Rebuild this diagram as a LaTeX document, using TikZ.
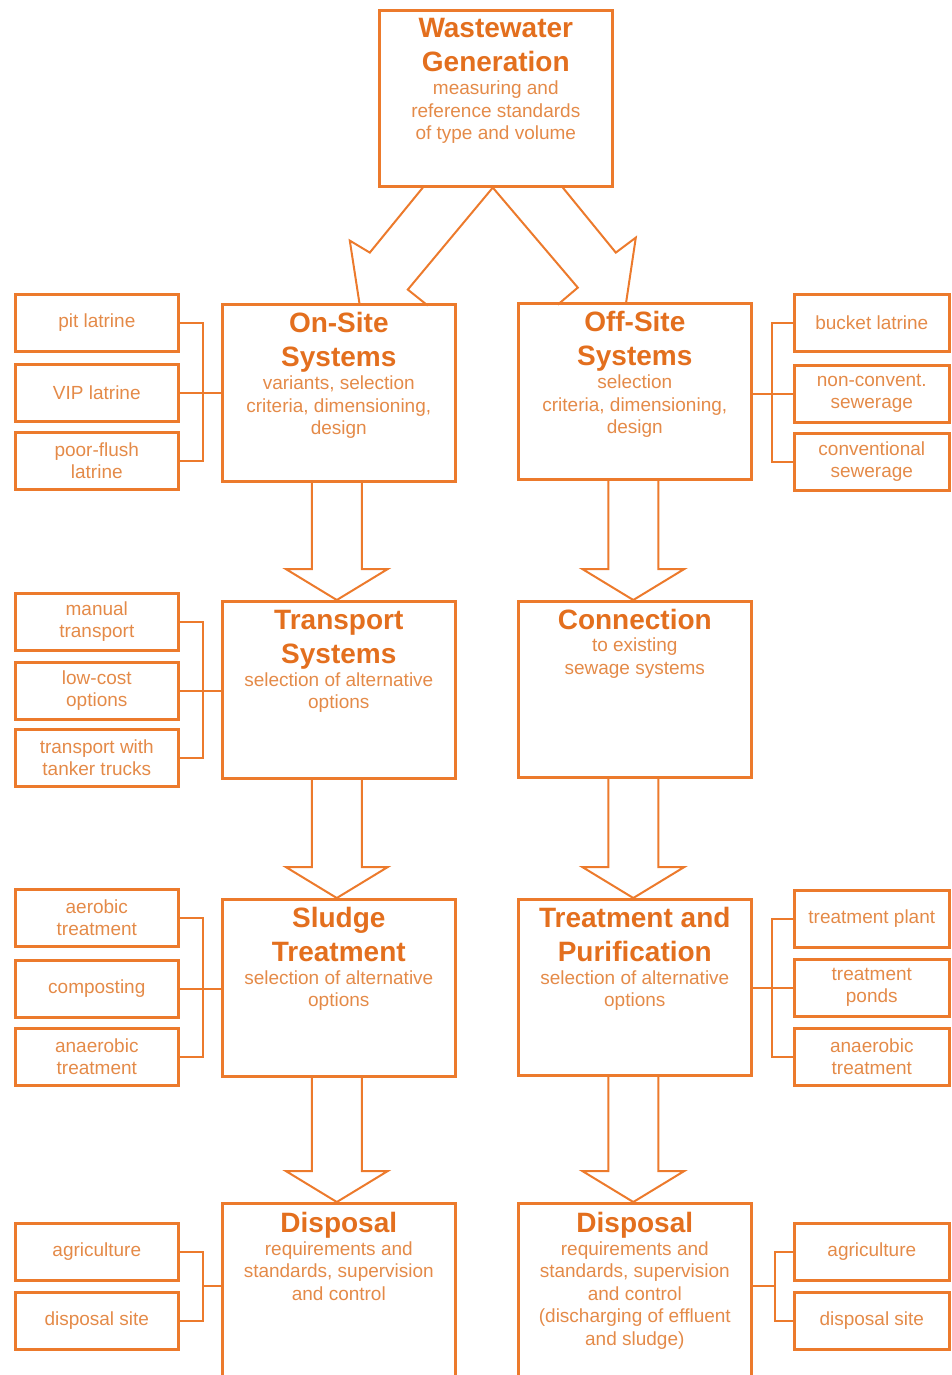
\documentclass[tikz,border=0pt]{standalone}
\usepackage{fontspec}
\setmainfont{Liberation Sans}
\usetikzlibrary{calc}
\definecolor{lineor}{HTML}{EC7A2C}
\definecolor{titleor}{HTML}{E36F1E}
\definecolor{bodyor}{HTML}{E48A48}
\newcommand\ttlf[1]{{\fontsize{28}{34}\selectfont\bfseries\color{titleor}#1}}
\newcommand\bodyfnt{\fontsize{19}{22.5}\selectfont\lineskiplimit -100pt\relax}
\newcommand\blockdown[3]{%
  \draw[barrow] ($(#1.south)+(#3-25,0)$) -- ($(#2.north)+(#3-25,-31)$) -- ($(#2.north)+(#3-51,-31)$) -- ($(#2.north)+(#3,0)$) -- ($(#2.north)+(#3+51,-31)$) -- ($(#2.north)+(#3+25,-31)$) -- ($(#1.south)+(#3+25,0)$);}
\begin{document}
\begin{tikzpicture}[x=1pt,y=-1pt,
  box/.style={draw=lineor, line width=2.6pt, minimum width=233pt, minimum height=177pt, anchor=north west, inner sep=0pt},
  sbox/.style={draw=lineor, line width=2.6pt, minimum width=163pt, minimum height=57pt, anchor=north west, inner sep=0pt, text=bodyor, font=\fontsize{19}{22}\selectfont, align=center},
  rbox/.style={sbox, minimum width=155pt},
  ttl/.style={anchor=north, inner sep=0pt, align=center, text=bodyor, font=\bodyfnt},
  link/.style={draw=lineor, line width=2.2pt},
  barrow/.style={draw=lineor, line width=2pt, line join=miter},
]
\useasboundingbox (0,0) rectangle (951,1375);
\clip (0,0) rectangle (951,1375);

% main boxes
\node[box, minimum height=176pt] (top) at (378,9) {};
\node[box] (onsite) at (221,303) {};
\node[box, minimum height=176pt] (offsite) at (517,302) {};
\node[box] (transport) at (221,600) {};
\node[box, minimum height=176pt] (connection) at (517,600) {};
\node[box] (sludge) at (221,898) {};
\node[box, minimum height=176pt] (treat) at (517,898) {};
\node[box, minimum height=200pt] (displ) at (221,1202) {};
\node[box, minimum height=200pt] (dispr) at (517,1202) {};

% texts of main boxes
\node[ttl] (topT) at ($(top.north)+(0,9)$) {\ttlf{Wastewater}\\[11.5pt]\ttlf{Generation}\\[1pt]measuring and\\reference standards\\of type and volume};
\node[ttl] (onsiteT) at ($(onsite.north)+(0,9)$) {\ttlf{On-Site}\\[11.5pt]\ttlf{Systems}\\[1pt]variants, selection\\criteria, dimensioning,\\design};
\node[ttl] (offsiteT) at ($(offsite.north)+(0,9)$) {\ttlf{Off-Site}\\[11.5pt]\ttlf{Systems}\\[1pt]selection\\criteria, dimensioning,\\design};
\node[ttl] (transportT) at ($(transport.north)+(0,10)$) {\ttlf{Transport}\\[11.5pt]\ttlf{Systems}\\[0.5pt]selection of alternative\\options};
\node[ttl] (connectionT) at ($(connection.north)+(0,9)$) {\ttlf{Connection}\\[0pt]to existing\\sewage systems};
\node[ttl] (sludgeT) at ($(sludge.north)+(0,9)$) {\ttlf{Sludge}\\[11.5pt]\ttlf{Treatment}\\[0pt]selection of alternative\\options};
\node[ttl] (treatT) at ($(treat.north)+(0,9)$) {\ttlf{Treatment and}\\[11.5pt]\ttlf{Purification}\\[0pt]selection of alternative\\options};
\node[ttl] (displT) at ($(displ.north)+(0,10)$) {\ttlf{Disposal}\\[0pt]requirements and\\standards, supervision\\and control};
\node[ttl] (disprT) at ($(dispr.north)+(0,10)$) {\ttlf{Disposal}\\[0pt]requirements and\\standards, supervision\\and control\\(discharging of effluent\\and sludge)};

% left side boxes
\node[sbox] (pit) at (14,293) {pit latrine};
\node[sbox] (vip) at (14,363) {VIP latrine};
\node[sbox] (poor) at (14,431) {poor-flush\\latrine};
\node[sbox] (manual) at (14,592) {manual\\transport};
\node[sbox] (lowcost) at (14,661) {low-cost\\options};
\node[sbox] (tanker) at (14,728) {transport with\\tanker trucks};
\node[sbox] (aerobic) at (14,888) {aerobic\\treatment};
\node[sbox] (compost) at (14,959) {composting};
\node[sbox] (anaerL) at (14,1027) {anaerobic\\treatment};
\node[sbox] (agriL) at (14,1222) {agriculture};
\node[sbox] (siteL) at (14,1291) {disposal site};

% right side boxes
\node[rbox] (bucket) at (793,293) {bucket latrine};
\node[rbox] (nonconv) at (793,364) {non-convent.\\sewerage};
\node[rbox] (conv) at (793,432) {conventional\\sewerage};
\node[rbox] (tplant) at (793,889) {treatment plant};
\node[rbox] (ponds) at (793,958) {treatment\\ponds};
\node[rbox] (anaerR) at (793,1027) {anaerobic\\treatment};
\node[rbox] (agriR) at (793,1222) {agriculture};
\node[rbox] (siteR) at (793,1291) {disposal site};

% bracket connectors, left
\draw[link] (pit.east) -- ++(23,0) |- (poor.east);
\draw[link] (vip.east) -- (vip.east -| onsite.west);
\draw[link] (manual.east) -- ++(23,0) |- (tanker.east);
\draw[link] (lowcost.east) -- (lowcost.east -| transport.west);
\draw[link] (aerobic.east) -- ++(23,0) |- (anaerL.east);
\draw[link] (compost.east) -- (compost.east -| sludge.west);
\draw[link] (agriL.east) -- ++(23,0) |- (siteL.east);
\coordinate (mL) at ($(agriL.east)!0.5!(siteL.east)+(23,0)$);
\draw[link] (mL) -- (mL -| displ.west);

% bracket connectors, right
\draw[link] (bucket.west) -- ++(-21,0) |- (conv.west);
\draw[link] (offsite.east |- nonconv.west) -- (nonconv.west);
\draw[link] (tplant.west) -- ++(-21,0) |- (anaerR.west);
\draw[link] (treat.east |- ponds.west) -- (ponds.west);
\draw[link] (agriR.west) -- ++(-18,0) |- (siteR.west);
\coordinate (mR) at ($(agriR.west)!0.5!(siteR.west)+(-18,0)$);
\draw[link] (dispr.east |- mR) -- (mR);

% diagonal block arrows from the top box
\draw[barrow] ($(top.south)+(-73,0)$) -- ($(top.south)+(-126,65)$) -- ($(top.south)+(-146,53)$) -- ($(top.south)+(-136,118)$);
\draw[barrow] ($(top.south)+(-3,0)$) -- ($(top.south)+(-88,102)$) -- ($(top.south)+(-68,118)$);
\draw[barrow] ($(top.south)+(67,0)$) -- ($(top.south)+(120,65)$) -- ($(top.south)+(140,50)$) -- ($(top.south)+(130,117)$);
\draw[barrow] ($(top.south)+(-3,0)$) -- ($(top.south)+(82,100)$) -- ($(top.south)+(62,117)$);

% vertical block arrows
\blockdown{onsite}{transport}{-2}
\blockdown{transport}{sludge}{-2}
\blockdown{sludge}{displ}{-2}
\blockdown{offsite}{connection}{-1.5}
\blockdown{connection}{treat}{-1.5}
\blockdown{treat}{dispr}{-1.5}
\end{tikzpicture}
\end{document}
